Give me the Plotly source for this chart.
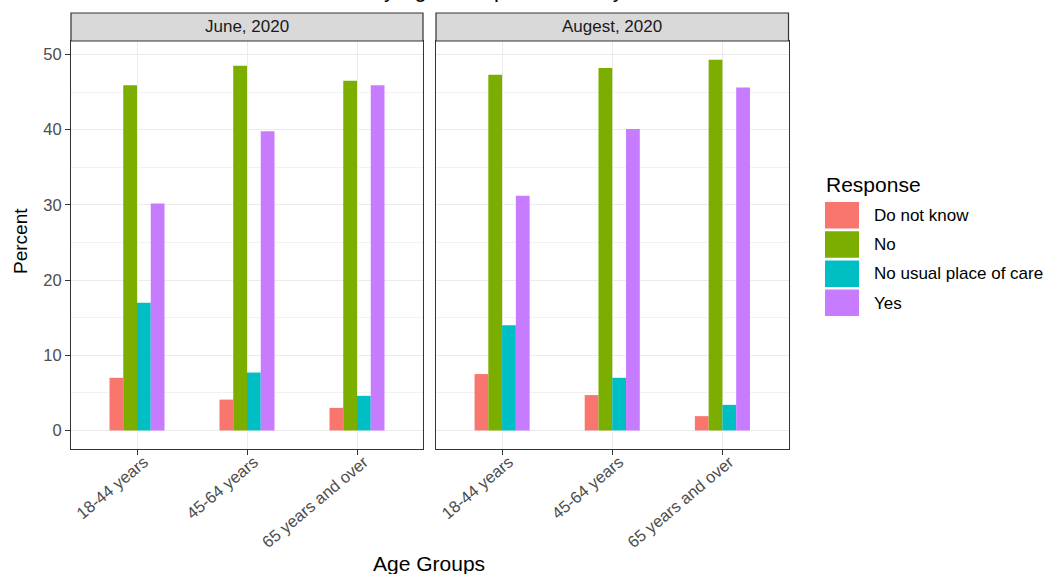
import plotly.graph_objects as go
from plotly.subplots import make_subplots

# ---- data ----
age_groups = ["18-44 years", "45-64 years", "65 years and over"]
periods = ["June, 2020", "Augest, 2020"]
responses = ["Do not know", "No", "No usual place of care", "Yes"]
june_do_not_know = [7.0, 4.1, 3.0]
june_no = [45.9, 48.5, 46.5]
june_no_usual = [17.0, 7.7, 4.6]
june_yes = [30.2, 39.8, 45.9]
aug_do_not_know = [7.5, 4.7, 1.9]
aug_no = [47.3, 48.2, 49.3]
aug_no_usual = [14.0, 7.0, 3.4]
aug_yes = [31.2, 40.1, 45.6]
colors = ["#F8766D", "#7CAE00", "#00BFC4", "#C77CFF"]
title_text = "Usual Place of Care by Age Group and Survey Month"

panel_values = [
    [june_do_not_know, june_no, june_no_usual, june_yes],
    [aug_do_not_know, aug_no, aug_no_usual, aug_yes],
]

W, H = 1059, 574
FONT = "Liberation Sans, Arial, sans-serif"

def px_x(p):
    return p / W

def px_y(p):
    return 1 - p / H

fig = make_subplots(rows=1, cols=2, shared_yaxes=True)

for c, vals in enumerate(panel_values):
    for r, name in enumerate(responses):
        fig.add_trace(
            go.Bar(x=age_groups, y=vals[r], name=name, marker_color=colors[r],
                   marker_line_width=0, showlegend=False),
            row=1, col=c + 1,
        )

panel_x = [(71, 423), (436, 788.5)]
panel_top, panel_bot = 41, 449
strip_top = 13

axis_common = dict(
    showline=True, mirror=True, linecolor="#333333", linewidth=1.2,
    showgrid=True, gridcolor="#EBEBEB", gridwidth=1.3,
    ticks="outside", ticklen=5, tickcolor="#333333", tickwidth=1.2,
    zeroline=False,
)

for c in range(2):
    xa = "xaxis" if c == 0 else "xaxis2"
    ya = "yaxis" if c == 0 else "yaxis2"
    fig.layout[xa].update(
        domain=[px_x(panel_x[c][0]), px_x(panel_x[c][1])],
        range=[-0.6, 2.6], type="category",
        tickangle=-40, tickfont=dict(family=FONT, size=16.5, color="#4D4D4D"),
        ticklabelshift=7, ticklabelstandoff=-9,
        automargin=False, **axis_common,
    )
    fig.layout[ya].update(
        domain=[px_y(panel_bot), px_y(panel_top)],
        range=[-2.47, 51.8], dtick=10, tick0=0,
        tickfont=dict(family=FONT, size=16.5, color="#4D4D4D"),
        minor=dict(dtick=5, tick0=0, showgrid=True, gridcolor="#F2F2F2", gridwidth=0.7, ticks=""),
        automargin=False, **axis_common,
    )
fig.layout.yaxis2.update(showticklabels=False, ticks="")

shapes = []
annotations = []
# strips
for c in range(2):
    shapes.append(dict(type="rect", xref="paper", yref="paper",
                       x0=px_x(panel_x[c][0]), x1=px_x(panel_x[c][1]),
                       y0=px_y(panel_top), y1=px_y(strip_top),
                       fillcolor="#D9D9D9", line=dict(color="#333333", width=1.2), layer="above"))
    annotations.append(dict(text=periods[c], xref="paper", yref="paper",
                            x=px_x((panel_x[c][0] + panel_x[c][1]) / 2),
                            y=px_y((panel_top + strip_top) / 2),
                            xanchor="center", yanchor="middle", showarrow=False,
                            font=dict(family=FONT, size=17, color="#1A1A1A")))

# axis titles
annotations.append(dict(text="Percent", xref="paper", yref="paper",
                        x=px_x(20), y=px_y(241), textangle=-90,
                        xanchor="center", yanchor="middle", showarrow=False,
                        font=dict(family=FONT, size=19, color="#000000")))
annotations.append(dict(text="Age Groups", xref="paper", yref="paper",
                        x=px_x(429), y=px_y(563),
                        xanchor="center", yanchor="middle", showarrow=False,
                        font=dict(family=FONT, size=21, color="#000000")))
# clipped title (only its lower part is visible in the reference)
annotations.append(dict(text=title_text, xref="paper", yref="paper",
                        x=px_x(430), y=px_y(4),
                        xanchor="center", yanchor="bottom", showarrow=False,
                        font=dict(family=FONT, size=22, color="#000000")))

# legend
annotations.append(dict(text="Response", xref="paper", yref="paper",
                        x=px_x(824), y=px_y(184),
                        xanchor="left", yanchor="middle", showarrow=False,
                        font=dict(family=FONT, size=21, color="#000000")))
for i, name in enumerate(responses):
    top = 202 + i * 29.2
    shapes.append(dict(type="rect", xref="paper", yref="paper",
                       x0=px_x(825), x1=px_x(859), y0=px_y(top + 26.5), y1=px_y(top),
                       fillcolor=colors[i], line=dict(width=0)))
    annotations.append(dict(text=name, xref="paper", yref="paper",
                            x=px_x(872), y=px_y(top + 13.5),
                            xanchor="left", yanchor="middle", showarrow=False,
                            font=dict(family=FONT, size=17, color="#000000")))

fig.update_layout(
    width=W, height=H,
    margin=dict(l=0, r=0, t=0, b=0),
    paper_bgcolor="white", plot_bgcolor="white",
    barmode="group", bargap=0.5, bargroupgap=0,
    showlegend=False,
    shapes=shapes, annotations=annotations,
    font=dict(family=FONT),
)

fig.write_html(
    "out.html",
    config={"displayModeBar": False},
    post_script="document.body.style.margin='0px';document.body.style.overflow='hidden';",
)
